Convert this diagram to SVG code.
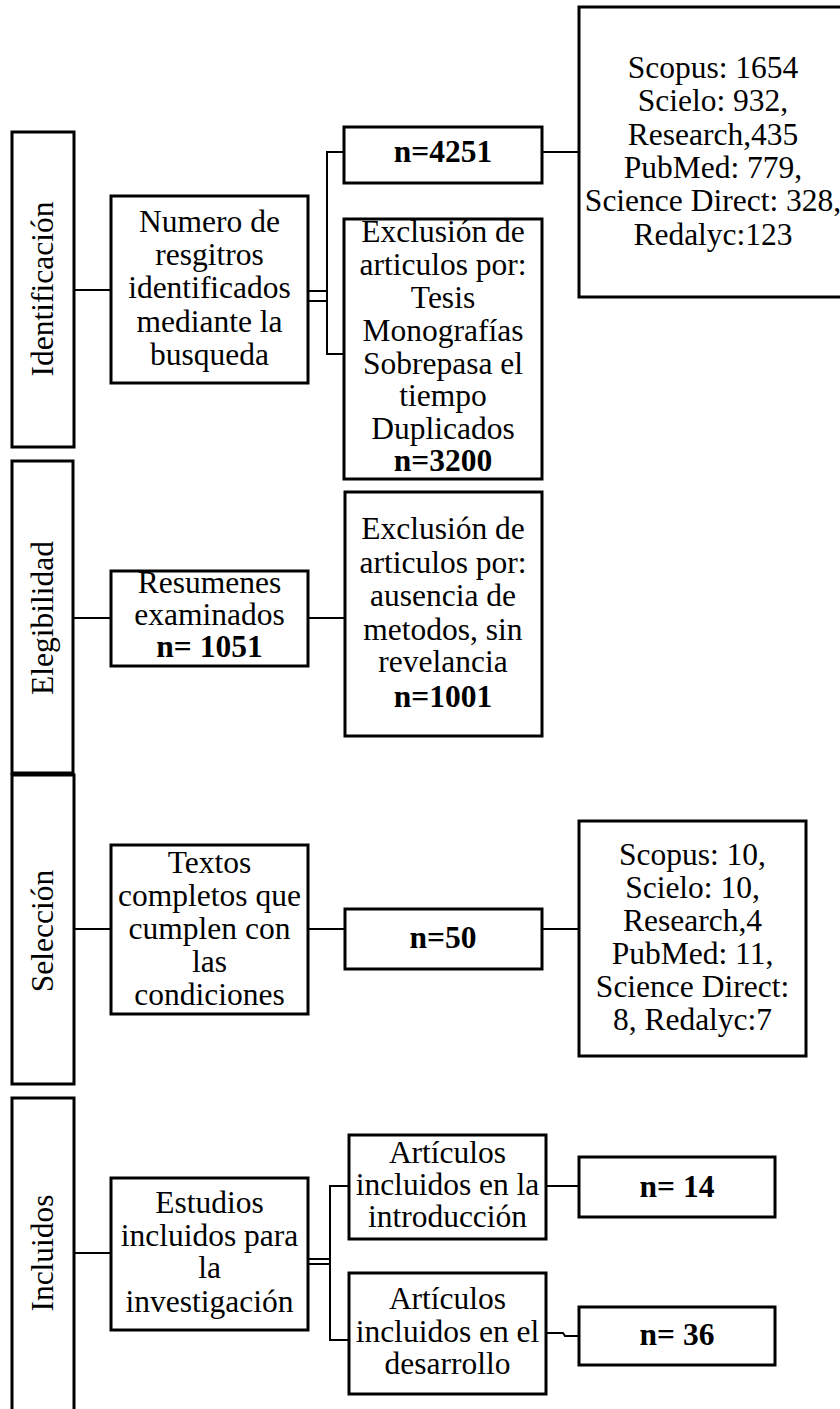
<svg xmlns="http://www.w3.org/2000/svg" width="840" height="1409" viewBox="0 0 840 1409">
<style>
.box{fill:#fff;stroke:#000;stroke-width:3}
.ln{fill:none;stroke:#000;stroke-width:2}
text{font-family:"Liberation Serif","Times New Roman",serif;font-size:31.5px;fill:#000;text-anchor:middle}
.b{font-weight:bold}
</style>
<rect width="840" height="1409" fill="#fff"/>
<g id="connectors">
<line class="ln" x1="74" y1="290" x2="111" y2="290"/>
<line class="ln" x1="308" y1="291" x2="327" y2="291"/>
<line class="ln" x1="308" y1="301" x2="327" y2="301"/>
<polyline class="ln" points="344,152 327,152 327,354 344,354"/>
<line class="ln" x1="542" y1="152" x2="579" y2="152"/>
<line class="ln" x1="73" y1="618" x2="111" y2="618"/>
<line class="ln" x1="308" y1="618" x2="345" y2="618"/>
<line class="ln" x1="74" y1="929" x2="111" y2="929"/>
<line class="ln" x1="308" y1="929" x2="345" y2="929"/>
<line class="ln" x1="542" y1="929" x2="579" y2="929"/>
<line class="ln" x1="74" y1="1253" x2="111" y2="1253"/>
<line class="ln" x1="308" y1="1259" x2="330" y2="1259"/>
<line class="ln" x1="308" y1="1264" x2="330" y2="1264"/>
<polyline class="ln" points="349,1186 330,1186 330,1340 349,1340"/>
<line class="ln" x1="546" y1="1186" x2="579" y2="1186"/>
<polyline class="ln" points="546,1333 563,1333 565,1336 579,1336"/>
</g>
<g id="identificacion">
<rect class="box" x="12" y="132" width="62" height="315"/>
<text transform="translate(53,289) rotate(-90)">Identificación</text>
</g>
<g id="elegibilidad">
<rect class="box" x="12" y="461" width="61" height="312"/>
<text transform="translate(53,618) rotate(-90)">Elegibilidad</text>
</g>
<g id="seleccion">
<rect class="box" x="12" y="775" width="62" height="309"/>
<text transform="translate(53,931) rotate(-90)">Selección</text>
</g>
<g id="incluidos">
<rect class="box" x="12" y="1098" width="62" height="330"/>
<text transform="translate(53,1253) rotate(-90)">Incluidos</text>
</g>
<g id="numero">
<rect class="box" x="111" y="196" width="197" height="187"/>
<text x="209.5" y="232">Numero de</text>
<text x="209.5" y="265">resgitros</text>
<text x="209.5" y="298">identificados</text>
<text x="209.5" y="332">mediante la</text>
<text x="209.5" y="365">busqueda</text>
</g>
<g id="n4251">
<rect class="box" x="344" y="127" width="198" height="56"/>
<text class="b" x="443" y="162">n=4251</text>
</g>
<g id="fuentes1">
<rect class="box" x="579" y="7" width="268" height="290"/>
<text x="713" y="78">Scopus: 1654</text>
<text x="713" y="111">Scielo: 932,</text>
<text x="713" y="145">Research,435</text>
<text x="713" y="178">PubMed: 779,</text>
<text x="713" y="211">Science Direct: 328,</text>
<text x="713" y="245">Redalyc:123</text>
</g>
<g id="exclusion1">
<rect class="box" x="344" y="219" width="198" height="260"/>
<text x="443" y="242">Exclusión de</text>
<text x="443" y="275">articulos por:</text>
<text x="443" y="308">Tesis</text>
<text x="443" y="341">Monografías</text>
<text x="443" y="374">Sobrepasa el</text>
<text x="443" y="406">tiempo</text>
<text x="443" y="439">Duplicados</text>
<text class="b" x="443" y="471">n=3200</text>
</g>
<g id="resumenes">
<rect class="box" x="111" y="571" width="197" height="95"/>
<text x="209.5" y="593">Resumenes</text>
<text x="209.5" y="625">examinados</text>
<text class="b" x="209.5" y="657">n= 1051</text>
</g>
<g id="exclusion2">
<rect class="box" x="345" y="492" width="197" height="244"/>
<text x="443" y="539">Exclusión de</text>
<text x="443" y="573">articulos por:</text>
<text x="443" y="606">ausencia de</text>
<text x="443" y="640">metodos, sin</text>
<text x="443" y="672">revelancia</text>
<text class="b" x="443" y="707">n=1001</text>
</g>
<g id="textos">
<rect class="box" x="111" y="845" width="197" height="169"/>
<text x="209.5" y="873">Textos</text>
<text x="209.5" y="906">completos que</text>
<text x="209.5" y="939">cumplen con</text>
<text x="209.5" y="972">las</text>
<text x="209.5" y="1005">condiciones</text>
</g>
<g id="n50">
<rect class="box" x="345" y="909" width="197" height="60"/>
<text class="b" x="443" y="948">n=50</text>
</g>
<g id="fuentes2">
<rect class="box" x="579" y="821" width="227" height="235"/>
<text x="692.5" y="865">Scopus: 10,</text>
<text x="692.5" y="898">Scielo: 10,</text>
<text x="692.5" y="931">Research,4</text>
<text x="692.5" y="964">PubMed: 11,</text>
<text x="692.5" y="997">Science Direct:</text>
<text x="692.5" y="1030">8, Redalyc:7</text>
</g>
<g id="estudios">
<rect class="box" x="111" y="1178" width="197" height="152"/>
<text x="209.5" y="1213">Estudios</text>
<text x="209.5" y="1246">incluidos para</text>
<text x="209.5" y="1278">la</text>
<text x="209.5" y="1312">investigación</text>
</g>
<g id="articulos1">
<rect class="box" x="349" y="1135" width="197" height="104"/>
<text x="447.5" y="1163">Artículos</text>
<text x="447.5" y="1195">incluidos en la</text>
<text x="447.5" y="1227">introducción</text>
</g>
<g id="articulos2">
<rect class="box" x="349" y="1273" width="197" height="121"/>
<text x="447.5" y="1309">Artículos</text>
<text x="447.5" y="1342">incluidos en el</text>
<text x="447.5" y="1374">desarrollo</text>
</g>
<g id="n14">
<rect class="box" x="579" y="1157" width="196" height="60"/>
<text class="b" x="677" y="1197">n= 14</text>
</g>
<g id="n36">
<rect class="box" x="579" y="1307" width="196" height="58"/>
<text class="b" x="677" y="1345">n= 36</text>
</g>
</svg>
